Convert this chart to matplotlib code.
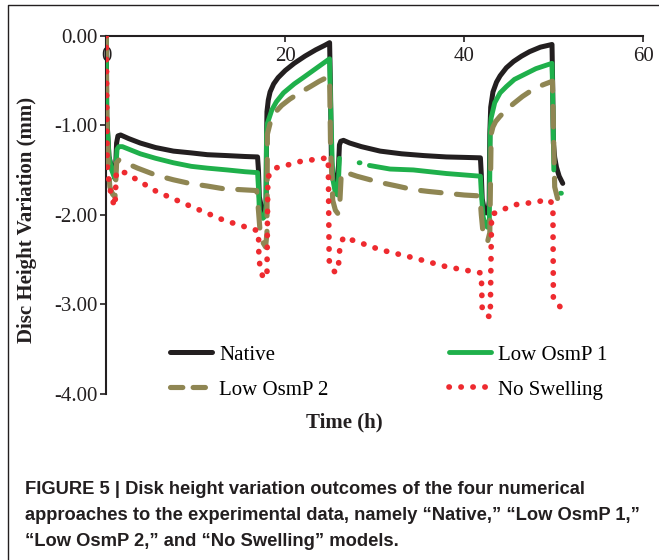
import numpy as np
import matplotlib
matplotlib.use("Agg")
import matplotlib.pyplot as plt
from matplotlib.lines import Line2D
from matplotlib.ticker import FormatStrFormatter

plt.rcParams['font.family'] = ['Liberation Serif', 'DejaVu Serif']
plt.rcParams['axes.unicode_minus'] = False

nan = np.nan

# Native
t_native = [0, 0.05, 0.3, 0.6, 0.85, 0.97, 1.05, 1.15, 1.3, 1.6, 2.5, 3.8, 5.5, 7.5, 9.5, 11.3, 13.5, 15.5,
            16.9, 17.0, 17.1, 17.3, 17.5, 17.7, 17.85, 17.9, 17.95, 18.1, 18.3, 18.7, 19.2, 20.0, 21.0, 22.2,
            23.4, 24.4, 24.95, 25.05, 25.15, 25.3, 25.55, 25.8, 25.95, 26.05, 26.2, 26.5, 27.2, 28.5, 30.6,
            33.0, 35.5, 38.0, 40.0, 41.8, 41.9, 42.0, 42.2, 42.45, 42.65, 42.78, 42.85, 42.95, 43.2, 43.6,
            44.0, 44.7, 45.5, 46.4, 47.3, 48.5, 49.8, 49.88, 49.95, 50.1, 50.3, 50.6, 51.0]
y_native = [0, -0.9, -1.35, -1.48, -1.54, -1.56, -1.45, -1.20, -1.12, -1.11, -1.15, -1.20, -1.25, -1.29,
            -1.31, -1.33, -1.34, -1.35, -1.355, -1.50, -1.80, -1.90, -1.96, -1.97, -1.90, -1.20, -0.85,
            -0.72, -0.63, -0.54, -0.47, -0.39, -0.31, -0.23, -0.16, -0.11, -0.08, -0.6, -1.40, -1.55,
            -1.62, -1.58, -1.45, -1.22, -1.18, -1.17, -1.20, -1.24, -1.29, -1.32, -1.34, -1.355, -1.36,
            -1.365, -1.55, -1.82, -1.93, -1.98, -1.97, -1.85, -1.10, -0.80, -0.63, -0.52, -0.45, -0.36,
            -0.29, -0.23, -0.18, -0.13, -0.10, -0.6, -1.20, -1.36, -1.47, -1.57, -1.65]

# Low OsmP 1
t_osm1 = [0, 0.05, 0.3, 0.6, 0.85, 0.97, 1.05, 1.2, 1.4, 1.8, 2.8, 3.8, 5.5, 7.5, 9.5, 11.3, 13.5, 15.5,
          16.9, 17.0, 17.1, 17.3, 17.5, 17.7, 17.85, 17.9, 18.0, 18.5, 19.0, 19.8, 21.0, 22.0, 23.4, 24.8,
          24.95, 25.1, 25.3, 25.6, 25.85, 25.95, 26.05, nan, 28.25, 28.35, nan, 29.4, 31.7, 34.3, 38.0,
          41.8, 41.9, 42.1, 42.35, 42.6, 42.8, 42.9, 43.0, 43.4, 44.0, 44.7, 45.6, 46.6, 48.0, 49.8, 49.9,
          50.0, nan, 50.75, 50.85]
y_osm1 = [0, -0.9, -1.35, -1.50, -1.57, -1.60, -1.50, -1.27, -1.24, -1.24, -1.28, -1.32, -1.37, -1.42,
          -1.46, -1.48, -1.50, -1.52, -1.53, -1.70, -1.95, -2.02, -2.04, -2.02, -1.90, -1.10, -0.98,
          -0.83, -0.74, -0.64, -0.54, -0.47, -0.37, -0.27, -0.26, -0.9, -1.60, -1.76, -1.78, -1.60,
          -1.37, nan, -1.42, -1.42, nan, -1.45, -1.49, -1.50, -1.54, -1.57, -1.75, -2.02, -2.12, -2.14,
          -2.05, -1.05, -0.92, -0.75, -0.64, -0.57, -0.49, -0.44, -0.37, -0.31, -0.8, -1.50, nan,
          -1.76, -1.76]

# Low OsmP 2
t_osm2 = [0, 0.05, 0.2, 0.4, 0.7, 0.97, 1.05, 1.15, 1.4, 1.9, 3.5, 5.6, 7.5, 9.3, 11.3, 13.1, 15.0, 16.8,
          17.0, 17.2, 17.5, 17.8, 17.95, 18.0, 18.3, 18.85, 19.6, 20.5, 21.6, 22.8, 23.8, 24.8, 24.95,
          25.05, 25.3, 25.6, 25.9, 26.1, 26.25, 26.5, 28.0, 30.6, 32.5, 34.3, 36.0, 38.0, 40.0, 41.75,
          41.9, 42.1, 42.4, 42.6, 42.85, 43.0, 43.2, 43.5, 44.0, 44.7, 45.5, 46.5, 47.7, 48.8, 49.85,
          49.95, 50.1, 50.5, 50.8]
y_osm2 = [0, -0.9, -1.45, -1.69, -1.77, -1.80, -1.65, -1.42, -1.39, -1.41, -1.48, -1.56, -1.61, -1.65,
          -1.68, -1.71, -1.72, -1.73, -1.95, -2.21, -2.31, -2.36, -2.20, -1.10, -0.98, -0.86, -0.78,
          -0.71, -0.64, -0.57, -0.51, -0.46, -0.46, -1.2, -1.84, -1.95, -1.99, -1.85, -1.55, -1.52,
          -1.57, -1.64, -1.68, -1.72, -1.74, -1.76, -1.78, -1.79, -2.00, -2.21, -2.28, -2.30, -2.20,
          -1.10, -1.02, -0.96, -0.90, -0.83, -0.76, -0.68, -0.60, -0.55, -0.51, -1.0, -1.69, -1.85,
          -1.93]

# No Swelling
t_noswell = [0, 0.05, 0.1, 0.2, 0.4, 0.6, 0.97, 1.05, 1.12, 2.1, 5.6, 9.3, 13.1, 16.0, 17.0, 17.05, 17.2,
             17.45, 17.7, 17.95, 18.05, 18.85, 20.1, 21.4, 23.5, 24.8, 24.9, 25.2, 25.55, 25.9, 26.1,
             26.5, 28.0, 30.6, 34.3, 38.0, 41.9, 42.0, 42.4, 42.9, 43.05, 43.5, 45.5, 47.9, 49.4, 49.9,
             49.95, 50.9]
y_noswell = [0, -0.7, -1.43, -1.56, -1.69, -1.82, -1.91, -1.70, -1.52, -1.53, -1.74, -1.90, -2.06, -2.15,
             -2.18, -2.47, -2.60, -2.68, -2.71, -2.68, -1.58, -1.48, -1.45, -1.41, -1.38, -1.365, -2.51,
             -2.60, -2.64, -2.62, -2.36, -2.25, -2.30, -2.39, -2.48, -2.58, -2.65, -3.05, -3.12, -3.14,
             -1.99, -1.98, -1.89, -1.86, -1.83, -1.88, -2.94, -3.05]

labels = ['Native', 'Low OsmP 1', 'Low OsmP 2', 'No Swelling']
colors = ['#231f20', '#1fb04b', '#8f8653', '#ee2a2f']
x_ticks = [0, 20, 40, 60]
y_ticks = [0, -1, -2, -3, -4]

fig = plt.figure(figsize=(6.59, 5.60), dpi=100)
ax = fig.add_axes([106.3 / 659, 1 - 394 / 560, 537 / 659, 358.5 / 560])

l_nat, = ax.plot(t_native, y_native, color=colors[0], lw=3.6, solid_capstyle='round', label=labels[0], zorder=2)
l_o1, = ax.plot(t_osm1, y_osm1, color=colors[1], lw=3.5, solid_capstyle='round', label=labels[1], zorder=3)
l_o2, = ax.plot(t_osm2, y_osm2, color=colors[2], lw=3.7, dashes=(4.0, 3.0), dash_capstyle='round',
                label=labels[2], zorder=4)
l_ns, = ax.plot(t_noswell, y_noswell, color=colors[3], lw=4.1, dashes=(0.05, 2.05), dash_capstyle='round',
                label=labels[3], zorder=5)

ax.set_xlim(0, 60)
ax.set_ylim(-4, 0)
ax.set_xticks(x_ticks)
ax.set_yticks(y_ticks)
ax.yaxis.set_major_formatter(FormatStrFormatter('%.2f'))
ax.spines['top'].set_visible(False)
ax.spines['right'].set_visible(False)
ax.spines['bottom'].set_position(('data', 0))
for s in ['left', 'bottom']:
    ax.spines[s].set_linewidth(1.5)
    ax.spines[s].set_color('#231f20')
ax.tick_params(axis='both', labelsize=15, colors='#231f20', width=1.2, length=4.3)
ax.tick_params(axis='x', pad=4)
ax.tick_params(axis='y', pad=2)
ax.set_axisbelow(False)

# в легенде у Low OsmP 2 два коротких штриха
h_o2 = Line2D([], [], color=colors[2], lw=3.7, dashes=(2.4, 2.0), dash_capstyle='round')

# легенда: две колонки, заполняются по столбцам
leg = ax.legend([l_nat, h_o2, l_o1, l_ns], [labels[0], labels[2], labels[1], labels[3]],
                loc='upper left', bbox_to_anchor=(170 / 659, 1 - 345 / 560), bbox_transform=fig.transFigure,
                ncol=2, frameon=False, fontsize=15, borderpad=0, handlelength=2.0, handletextpad=0.35,
                columnspacing=5.8, labelspacing=0.74, borderaxespad=0)

fig.text(27 / 659, 1 - 220 / 560, 'Disc Height Variation (mm)', rotation=90, ha='center', va='center',
         fontsize=15, fontweight='bold', color='#231f20')
fig.text(344 / 659, 1 - 422 / 560, 'Time (h)', ha='center', va='center', fontsize=15, fontweight='bold',
         color='#231f20')

# рамка вокруг рисунка
fig.add_artist(Line2D([8 / 659, 8 / 659, 1.01], [-0.01, 1 - 5 / 560, 1 - 5 / 560], color='#231f20',
                      lw=1.0, transform=fig.transFigure))

caption = ['FIGURE 5 | Disk height variation outcomes of the four numerical',
           'approaches to the experimental data, namely \u201cNative,\u201d \u201cLow OsmP 1,\u201d',
           '\u201cLow OsmP 2,\u201d and \u201cNo Swelling\u201d models.']
for i, line in enumerate(caption):
    fig.text(25 / 659, 1 - (490 + 25.5 * i) / 560, line, ha='left', va='center', fontsize=13.2,
             fontweight='bold', family=['Liberation Sans Narrow', 'Liberation Sans'], color='#231f20')

fig.savefig('out.png', dpi=100)
